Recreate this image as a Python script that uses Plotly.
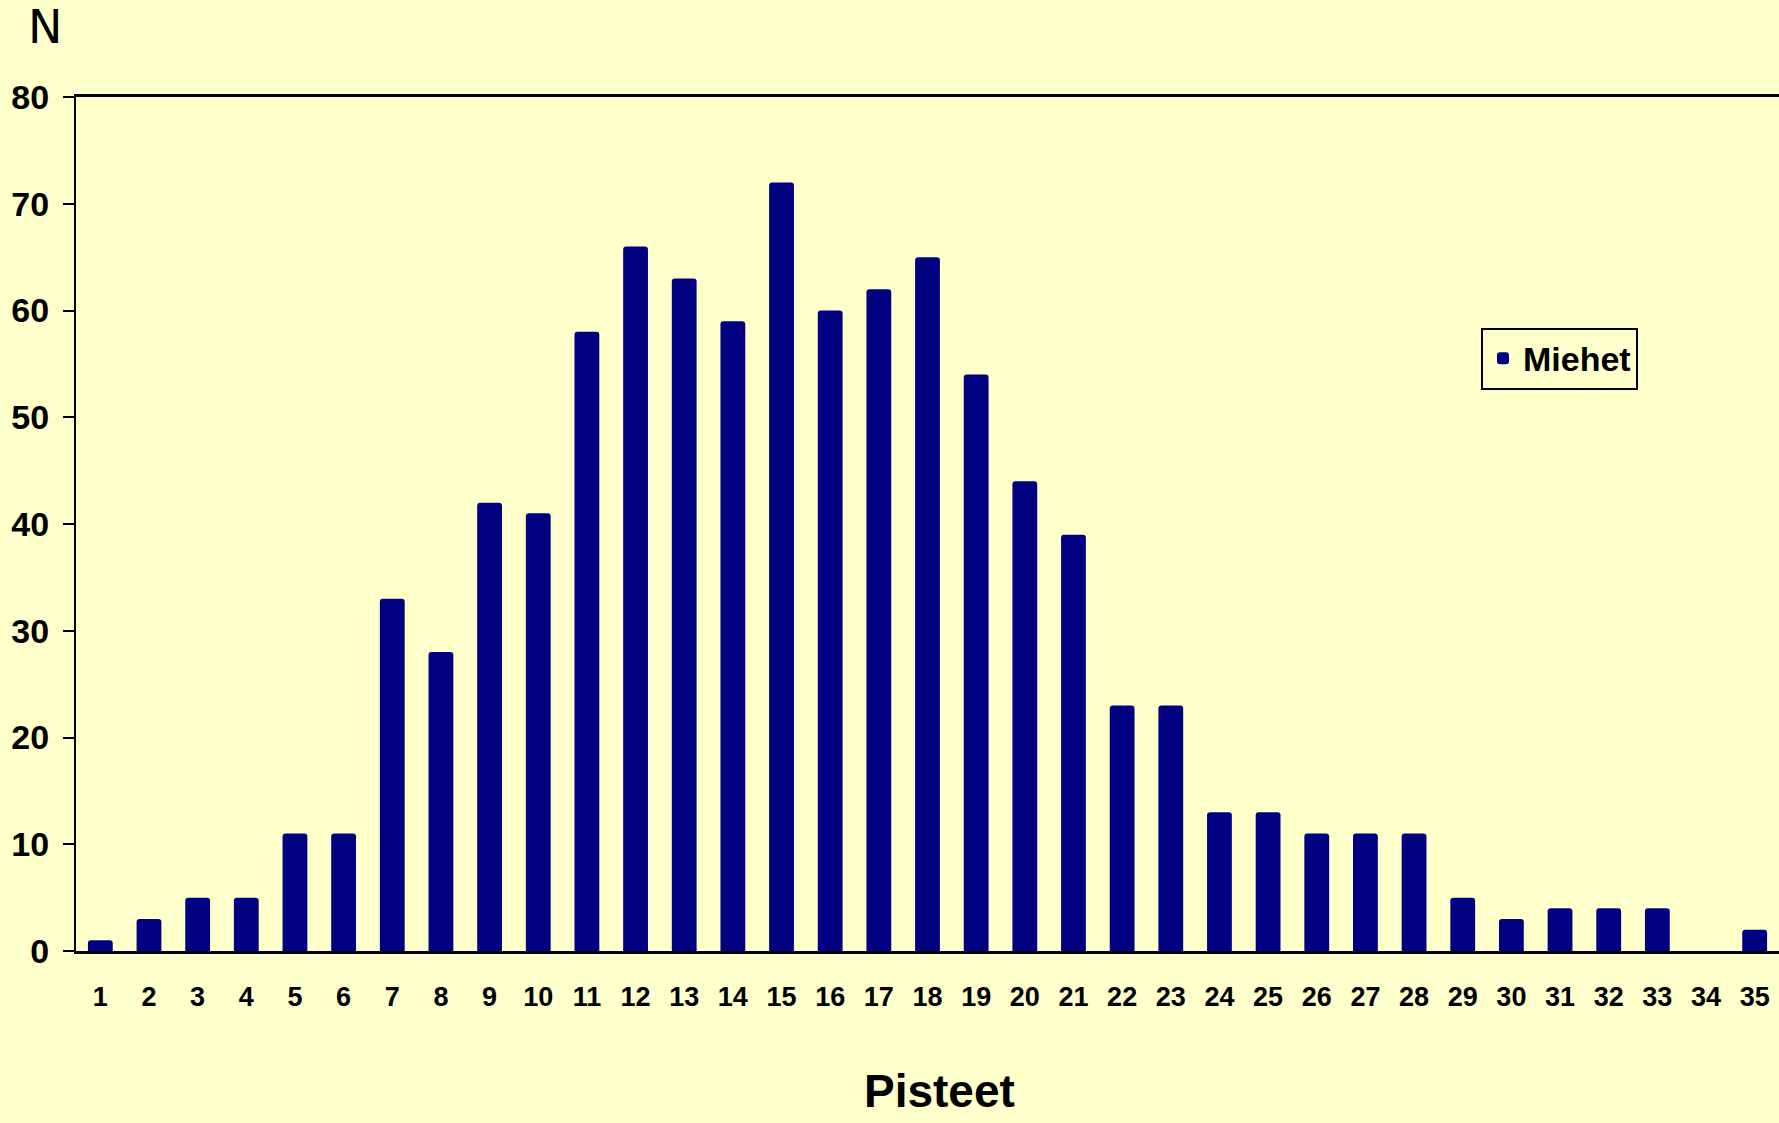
import plotly.graph_objects as go

categories = [str(i) for i in range(1, 36)]
miehet = [1, 3, 5, 5, 11, 11, 33, 28, 42, 41, 58, 66, 63, 59, 72, 60, 62, 65, 54, 44,
          39, 23, 23, 13, 13, 11, 11, 11, 5, 3, 4, 4, 4, 0, 2]
y_ticks = [0, 10, 20, 30, 40, 50, 60, 70, 80]

BG = "#FFFFCC"
NAVY = "#000080"
FONT = "Liberation Sans, Arial, sans-serif"

fig = go.Figure()
fig.add_trace(go.Bar(
    x=categories, y=miehet, name="Miehet",
    marker=dict(color=NAVY, line=dict(width=0), cornerradius=3),
))

fig.update_layout(
    width=1779, height=1123,
    paper_bgcolor=BG, plot_bgcolor=BG,
    margin=dict(l=76, r=0, t=97, b=172),
    bargap=0.49,
    showlegend=True,
    legend=dict(
        x=0.825, y=0.73, xanchor="left", yanchor="top",
        bgcolor=BG, bordercolor="black", borderwidth=2,
        font=dict(family=FONT, size=34, color="black", weight="bold"),
        itemsizing="constant", itemwidth=30,
    ),
    xaxis=dict(
        type="category",
        showline=True, linecolor="black", linewidth=2.5, mirror=True,
        ticks="", showgrid=False,
        tickfont=dict(family=FONT, size=27, color="black", weight="bold"),
        ticklabelstandoff=20,
    ),
    yaxis=dict(
        range=[0, 80], tickvals=y_ticks,
        showline=True, linecolor="black", linewidth=2,
        ticks="outside", ticklen=11, tickwidth=2, tickcolor="black",
        showgrid=False, zeroline=False,
        tickfont=dict(family=FONT, size=34, color="black", weight="bold"),
        ticklabelstandoff=7,
    ),
    annotations=[
        dict(text="N", xref="paper", yref="paper", x=-0.018, y=1.082,
             xanchor="center", yanchor="middle", showarrow=False,
             font=dict(family="DejaVu Sans, sans-serif", size=46, color="black")),
        dict(text="Pisteet", xref="paper", yref="paper", x=0.507, y=-0.164,
             xanchor="center", yanchor="middle", showarrow=False,
             font=dict(family=FONT, size=46, color="black", weight="bold")),
    ],
)

fig.write_html("out.html", config={"displayModeBar": False},
               post_script="document.body.style.margin='0';document.body.style.background='#FFFFCC';")
